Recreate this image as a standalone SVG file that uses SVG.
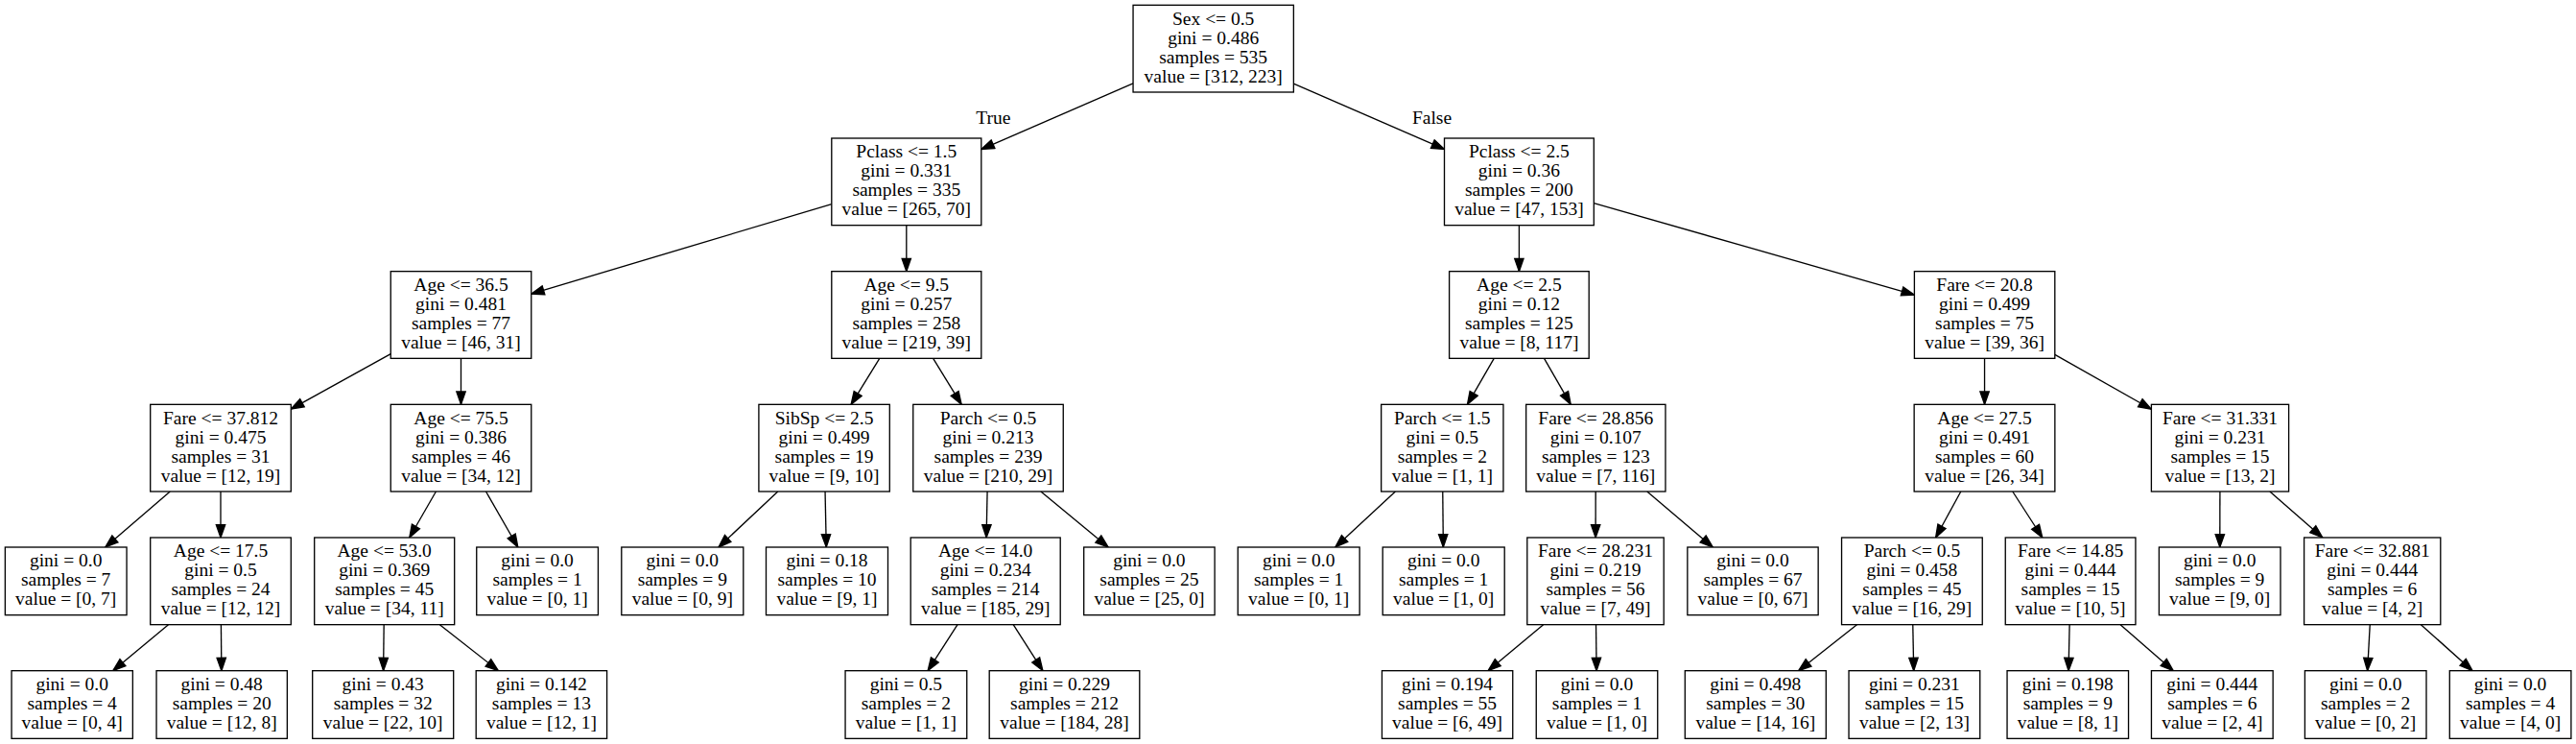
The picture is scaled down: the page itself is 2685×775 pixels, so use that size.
<svg xmlns="http://www.w3.org/2000/svg" width="2685" height="775" viewBox="0 0 2685 775">
<defs>
<style>
.node rect{fill:#fff;stroke:#000;stroke-width:1.33}
.node text,.lbl{font-family:"Liberation Serif","Times New Roman",serif;font-size:19.5px;text-anchor:middle;fill:#000}
.edges line{stroke:#000;stroke-width:1.33;marker-end:url(#ah)}
</style>
<marker id="ah" markerUnits="userSpaceOnUse" markerWidth="16" markerHeight="12" refX="13.33" refY="4.67" orient="auto" overflow="visible">
<path d="M0,0 L13.33,4.67 L0,9.33 Z" fill="#000" stroke="#000" stroke-width="1.33"/>
</marker>
</defs>
<rect x="0" y="0" width="2685" height="775" fill="#fff"/>
<g class="edges" id="connectors">
<line x1="1181.05" y1="86.93" x2="1022.8" y2="155.52"/>
<line x1="1348.35" y1="87.07" x2="1505.5" y2="155.43"/>
<line x1="866.8" y1="212.63" x2="553.75" y2="306.12"/>
<line x1="944.8" y1="234.67" x2="944.8" y2="282.67"/>
<line x1="407.25" y1="368.55" x2="303.3" y2="426.09"/>
<line x1="480.5" y1="373.33" x2="480.5" y2="421.33"/>
<line x1="177.27" y1="512" x2="109.8" y2="570"/>
<line x1="230" y1="512" x2="230" y2="560"/>
<line x1="175.46" y1="650.67" x2="117.7" y2="698.67"/>
<line x1="230.42" y1="650.67" x2="230.87" y2="698.67"/>
<line x1="454.41" y1="512" x2="426.79" y2="560"/>
<line x1="506.52" y1="512" x2="539.82" y2="570"/>
<line x1="400.17" y1="650.67" x2="399.61" y2="698.67"/>
<line x1="458.37" y1="650.67" x2="519.45" y2="698.67"/>
<line x1="916.78" y1="373.33" x2="887.12" y2="421.33"/>
<line x1="972.65" y1="373.33" x2="1002.15" y2="421.33"/>
<line x1="810.78" y1="512" x2="748.96" y2="570"/>
<line x1="860.05" y1="512" x2="861.26" y2="570"/>
<line x1="1029.08" y1="512" x2="1028.12" y2="560"/>
<line x1="1084.89" y1="512" x2="1155.12" y2="570"/>
<line x1="998.03" y1="650.67" x2="967.14" y2="698.67"/>
<line x1="1056.19" y1="650.67" x2="1086.9" y2="698.67"/>
<line x1="1583.4" y1="234.67" x2="1583.4" y2="282.67"/>
<line x1="1661.3" y1="211.6" x2="1995.4" y2="307.08"/>
<line x1="1557.22" y1="373.33" x2="1529.48" y2="421.33"/>
<line x1="1609.52" y1="373.33" x2="1637.18" y2="421.33"/>
<line x1="1454.4" y1="512" x2="1391.82" y2="570"/>
<line x1="1503.76" y1="512" x2="1504.34" y2="570"/>
<line x1="1663.2" y1="512" x2="1663.1" y2="560"/>
<line x1="1716.81" y1="512" x2="1785.29" y2="570"/>
<line x1="1608.6" y1="650.67" x2="1551" y2="698.67"/>
<line x1="1663.53" y1="650.67" x2="1664.09" y2="698.67"/>
<line x1="2068.55" y1="373.33" x2="2068.55" y2="421.33"/>
<line x1="2141.8" y1="369.36" x2="2242.4" y2="426.21"/>
<line x1="2043.79" y1="512" x2="2017.61" y2="560"/>
<line x1="2097.79" y1="512" x2="2128.81" y2="560"/>
<line x1="1935.44" y1="650.67" x2="1874.59" y2="698.67"/>
<line x1="1993.78" y1="650.67" x2="1994.71" y2="698.67"/>
<line x1="2157.11" y1="650.67" x2="2156.07" y2="698.67"/>
<line x1="2210.13" y1="650.67" x2="2265.24" y2="698.67"/>
<line x1="2313.9" y1="512" x2="2313.78" y2="570"/>
<line x1="2365.88" y1="512" x2="2420.82" y2="560"/>
<line x1="2470.23" y1="650.67" x2="2467.62" y2="698.67"/>
<line x1="2523.4" y1="650.67" x2="2577.09" y2="698.67"/>
<text class="lbl" x="1035.3" y="129">True</text>
<text class="lbl" x="1492.5" y="129">False</text>
</g>
<g class="node" id="n0"><rect x="1181.05" y="5.33" width="167.3" height="90.67"/><text x="1264.7" y="25.6">Sex &lt;= 0.5<tspan x="1264.7" dy="20">gini = 0.486</tspan><tspan x="1264.7" dy="20">samples = 535</tspan><tspan x="1264.7" dy="20">value = [312, 223]</tspan></text></g>
<g class="node" id="n1"><rect x="866.8" y="144" width="156" height="90.67"/><text x="944.8" y="164.26">Pclass &lt;= 1.5<tspan x="944.8" dy="20">gini = 0.331</tspan><tspan x="944.8" dy="20">samples = 335</tspan><tspan x="944.8" dy="20">value = [265, 70]</tspan></text></g>
<g class="node" id="n2"><rect x="407.25" y="282.67" width="146.5" height="90.67"/><text x="480.5" y="302.93">Age &lt;= 36.5<tspan x="480.5" dy="20">gini = 0.481</tspan><tspan x="480.5" dy="20">samples = 77</tspan><tspan x="480.5" dy="20">value = [46, 31]</tspan></text></g>
<g class="node" id="n3"><rect x="156.7" y="421.33" width="146.6" height="90.67"/><text x="230" y="441.6">Fare &lt;= 37.812<tspan x="230" dy="20">gini = 0.475</tspan><tspan x="230" dy="20">samples = 31</tspan><tspan x="230" dy="20">value = [12, 19]</tspan></text></g>
<g class="node" id="n4"><rect x="5.35" y="570" width="126.7" height="70.67"/><text x="68.7" y="590.26">gini = 0.0<tspan x="68.7" dy="20">samples = 7</tspan><tspan x="68.7" dy="20">value = [0, 7]</tspan></text></g>
<g class="node" id="n5"><rect x="156.7" y="560" width="146.6" height="90.67"/><text x="230" y="580.26">Age &lt;= 17.5<tspan x="230" dy="20">gini = 0.5</tspan><tspan x="230" dy="20">samples = 24</tspan><tspan x="230" dy="20">value = [12, 12]</tspan></text></g>
<g class="node" id="n6"><rect x="12.05" y="698.67" width="126.3" height="70.67"/><text x="75.2" y="718.93">gini = 0.0<tspan x="75.2" dy="20">samples = 4</tspan><tspan x="75.2" dy="20">value = [0, 4]</tspan></text></g>
<g class="node" id="n7"><rect x="163.05" y="698.67" width="136.3" height="70.67"/><text x="231.2" y="718.93">gini = 0.48<tspan x="231.2" dy="20">samples = 20</tspan><tspan x="231.2" dy="20">value = [12, 8]</tspan></text></g>
<g class="node" id="n8"><rect x="407.25" y="421.33" width="146.5" height="90.67"/><text x="480.5" y="441.6">Age &lt;= 75.5<tspan x="480.5" dy="20">gini = 0.386</tspan><tspan x="480.5" dy="20">samples = 46</tspan><tspan x="480.5" dy="20">value = [34, 12]</tspan></text></g>
<g class="node" id="n9"><rect x="327.7" y="560" width="146" height="90.67"/><text x="400.7" y="580.26">Age &lt;= 53.0<tspan x="400.7" dy="20">gini = 0.369</tspan><tspan x="400.7" dy="20">samples = 45</tspan><tspan x="400.7" dy="20">value = [34, 11]</tspan></text></g>
<g class="node" id="n10"><rect x="325.7" y="698.67" width="147" height="70.67"/><text x="399.2" y="718.93">gini = 0.43<tspan x="399.2" dy="20">samples = 32</tspan><tspan x="399.2" dy="20">value = [22, 10]</tspan></text></g>
<g class="node" id="n11"><rect x="496.2" y="698.67" width="136.4" height="70.67"/><text x="564.4" y="718.93">gini = 0.142<tspan x="564.4" dy="20">samples = 13</tspan><tspan x="564.4" dy="20">value = [12, 1]</tspan></text></g>
<g class="node" id="n12"><rect x="496.75" y="570" width="126.7" height="70.67"/><text x="560.1" y="590.26">gini = 0.0<tspan x="560.1" dy="20">samples = 1</tspan><tspan x="560.1" dy="20">value = [0, 1]</tspan></text></g>
<g class="node" id="n13"><rect x="866.8" y="282.67" width="156" height="90.67"/><text x="944.8" y="302.93">Age &lt;= 9.5<tspan x="944.8" dy="20">gini = 0.257</tspan><tspan x="944.8" dy="20">samples = 258</tspan><tspan x="944.8" dy="20">value = [219, 39]</tspan></text></g>
<g class="node" id="n14"><rect x="790.9" y="421.33" width="136.4" height="90.67"/><text x="859.1" y="441.6">SibSp &lt;= 2.5<tspan x="859.1" dy="20">gini = 0.499</tspan><tspan x="859.1" dy="20">samples = 19</tspan><tspan x="859.1" dy="20">value = [9, 10]</tspan></text></g>
<g class="node" id="n15"><rect x="647.8" y="570" width="127" height="70.67"/><text x="711.3" y="590.26">gini = 0.0<tspan x="711.3" dy="20">samples = 9</tspan><tspan x="711.3" dy="20">value = [0, 9]</tspan></text></g>
<g class="node" id="n16"><rect x="798.5" y="570" width="127" height="70.67"/><text x="862" y="590.26">gini = 0.18<tspan x="862" dy="20">samples = 10</tspan><tspan x="862" dy="20">value = [9, 1]</tspan></text></g>
<g class="node" id="n17"><rect x="951.75" y="421.33" width="156.5" height="90.67"/><text x="1030" y="441.6">Parch &lt;= 0.5<tspan x="1030" dy="20">gini = 0.213</tspan><tspan x="1030" dy="20">samples = 239</tspan><tspan x="1030" dy="20">value = [210, 29]</tspan></text></g>
<g class="node" id="n18"><rect x="949.2" y="560" width="156" height="90.67"/><text x="1027.2" y="580.26">Age &lt;= 14.0<tspan x="1027.2" dy="20">gini = 0.234</tspan><tspan x="1027.2" dy="20">samples = 214</tspan><tspan x="1027.2" dy="20">value = [185, 29]</tspan></text></g>
<g class="node" id="n19"><rect x="881.05" y="698.67" width="126.7" height="70.67"/><text x="944.4" y="718.93">gini = 0.5<tspan x="944.4" dy="20">samples = 2</tspan><tspan x="944.4" dy="20">value = [1, 1]</tspan></text></g>
<g class="node" id="n20"><rect x="1031.2" y="698.67" width="156.6" height="70.67"/><text x="1109.5" y="718.93">gini = 0.229<tspan x="1109.5" dy="20">samples = 212</tspan><tspan x="1109.5" dy="20">value = [184, 28]</tspan></text></g>
<g class="node" id="n21"><rect x="1129.7" y="570" width="136.4" height="70.67"/><text x="1197.9" y="590.26">gini = 0.0<tspan x="1197.9" dy="20">samples = 25</tspan><tspan x="1197.9" dy="20">value = [25, 0]</tspan></text></g>
<g class="node" id="n22"><rect x="1505.5" y="144" width="155.8" height="90.67"/><text x="1583.4" y="164.26">Pclass &lt;= 2.5<tspan x="1583.4" dy="20">gini = 0.36</tspan><tspan x="1583.4" dy="20">samples = 200</tspan><tspan x="1583.4" dy="20">value = [47, 153]</tspan></text></g>
<g class="node" id="n23"><rect x="1510.6" y="282.67" width="145.6" height="90.67"/><text x="1583.4" y="302.93">Age &lt;= 2.5<tspan x="1583.4" dy="20">gini = 0.12</tspan><tspan x="1583.4" dy="20">samples = 125</tspan><tspan x="1583.4" dy="20">value = [8, 117]</tspan></text></g>
<g class="node" id="n24"><rect x="1439.65" y="421.33" width="127.3" height="90.67"/><text x="1503.3" y="441.6">Parch &lt;= 1.5<tspan x="1503.3" dy="20">gini = 0.5</tspan><tspan x="1503.3" dy="20">samples = 2</tspan><tspan x="1503.3" dy="20">value = [1, 1]</tspan></text></g>
<g class="node" id="n25"><rect x="1290.25" y="570" width="126.9" height="70.67"/><text x="1353.7" y="590.26">gini = 0.0<tspan x="1353.7" dy="20">samples = 1</tspan><tspan x="1353.7" dy="20">value = [0, 1]</tspan></text></g>
<g class="node" id="n26"><rect x="1441.2" y="570" width="127" height="70.67"/><text x="1504.7" y="590.26">gini = 0.0<tspan x="1504.7" dy="20">samples = 1</tspan><tspan x="1504.7" dy="20">value = [1, 0]</tspan></text></g>
<g class="node" id="n27"><rect x="1590.65" y="421.33" width="145.3" height="90.67"/><text x="1663.3" y="441.6">Fare &lt;= 28.856<tspan x="1663.3" dy="20">gini = 0.107</tspan><tspan x="1663.3" dy="20">samples = 123</tspan><tspan x="1663.3" dy="20">value = [7, 116]</tspan></text></g>
<g class="node" id="n28"><rect x="1591.8" y="560" width="142.4" height="90.67"/><text x="1663" y="580.26">Fare &lt;= 28.231<tspan x="1663" dy="20">gini = 0.219</tspan><tspan x="1663" dy="20">samples = 56</tspan><tspan x="1663" dy="20">value = [7, 49]</tspan></text></g>
<g class="node" id="n29"><rect x="1440.45" y="698.67" width="136.3" height="70.67"/><text x="1508.6" y="718.93">gini = 0.194<tspan x="1508.6" dy="20">samples = 55</tspan><tspan x="1508.6" dy="20">value = [6, 49]</tspan></text></g>
<g class="node" id="n30"><rect x="1601.25" y="698.67" width="126.5" height="70.67"/><text x="1664.5" y="718.93">gini = 0.0<tspan x="1664.5" dy="20">samples = 1</tspan><tspan x="1664.5" dy="20">value = [1, 0]</tspan></text></g>
<g class="node" id="n31"><rect x="1758.85" y="570" width="136.3" height="70.67"/><text x="1827" y="590.26">gini = 0.0<tspan x="1827" dy="20">samples = 67</tspan><tspan x="1827" dy="20">value = [0, 67]</tspan></text></g>
<g class="node" id="n32"><rect x="1995.4" y="282.67" width="146.4" height="90.67"/><text x="2068.6" y="302.93">Fare &lt;= 20.8<tspan x="2068.6" dy="20">gini = 0.499</tspan><tspan x="2068.6" dy="20">samples = 75</tspan><tspan x="2068.6" dy="20">value = [39, 36]</tspan></text></g>
<g class="node" id="n33"><rect x="1995.15" y="421.33" width="146.7" height="90.67"/><text x="2068.5" y="441.6">Age &lt;= 27.5<tspan x="2068.5" dy="20">gini = 0.491</tspan><tspan x="2068.5" dy="20">samples = 60</tspan><tspan x="2068.5" dy="20">value = [26, 34]</tspan></text></g>
<g class="node" id="n34"><rect x="1919.55" y="560" width="146.7" height="90.67"/><text x="1992.9" y="580.26">Parch &lt;= 0.5<tspan x="1992.9" dy="20">gini = 0.458</tspan><tspan x="1992.9" dy="20">samples = 45</tspan><tspan x="1992.9" dy="20">value = [16, 29]</tspan></text></g>
<g class="node" id="n35"><rect x="1756.3" y="698.67" width="147" height="70.67"/><text x="1829.8" y="718.93">gini = 0.498<tspan x="1829.8" dy="20">samples = 30</tspan><tspan x="1829.8" dy="20">value = [14, 16]</tspan></text></g>
<g class="node" id="n36"><rect x="1927.05" y="698.67" width="136.7" height="70.67"/><text x="1995.4" y="718.93">gini = 0.231<tspan x="1995.4" dy="20">samples = 15</tspan><tspan x="1995.4" dy="20">value = [2, 13]</tspan></text></g>
<g class="node" id="n37"><rect x="2090.25" y="560" width="135.7" height="90.67"/><text x="2158.1" y="580.26">Fare &lt;= 14.85<tspan x="2158.1" dy="20">gini = 0.444</tspan><tspan x="2158.1" dy="20">samples = 15</tspan><tspan x="2158.1" dy="20">value = [10, 5]</tspan></text></g>
<g class="node" id="n38"><rect x="2092.05" y="698.67" width="126.5" height="70.67"/><text x="2155.3" y="718.93">gini = 0.198<tspan x="2155.3" dy="20">samples = 9</tspan><tspan x="2155.3" dy="20">value = [8, 1]</tspan></text></g>
<g class="node" id="n39"><rect x="2242.45" y="698.67" width="126.7" height="70.67"/><text x="2305.8" y="718.93">gini = 0.444<tspan x="2305.8" dy="20">samples = 6</tspan><tspan x="2305.8" dy="20">value = [2, 4]</tspan></text></g>
<g class="node" id="n40"><rect x="2242.4" y="421.33" width="143.2" height="90.67"/><text x="2314" y="441.6">Fare &lt;= 31.331<tspan x="2314" dy="20">gini = 0.231</tspan><tspan x="2314" dy="20">samples = 15</tspan><tspan x="2314" dy="20">value = [13, 2]</tspan></text></g>
<g class="node" id="n41"><rect x="2250.4" y="570" width="126.6" height="70.67"/><text x="2313.7" y="590.26">gini = 0.0<tspan x="2313.7" dy="20">samples = 9</tspan><tspan x="2313.7" dy="20">value = [9, 0]</tspan></text></g>
<g class="node" id="n42"><rect x="2401.6" y="560" width="142.2" height="90.67"/><text x="2472.7" y="580.26">Fare &lt;= 32.881<tspan x="2472.7" dy="20">gini = 0.444</tspan><tspan x="2472.7" dy="20">samples = 6</tspan><tspan x="2472.7" dy="20">value = [4, 2]</tspan></text></g>
<g class="node" id="n43"><rect x="2402.4" y="698.67" width="126.6" height="70.67"/><text x="2465.7" y="718.93">gini = 0.0<tspan x="2465.7" dy="20">samples = 2</tspan><tspan x="2465.7" dy="20">value = [0, 2]</tspan></text></g>
<g class="node" id="n44"><rect x="2553.3" y="698.67" width="126.6" height="70.67"/><text x="2616.6" y="718.93">gini = 0.0<tspan x="2616.6" dy="20">samples = 4</tspan><tspan x="2616.6" dy="20">value = [4, 0]</tspan></text></g>
</svg>
